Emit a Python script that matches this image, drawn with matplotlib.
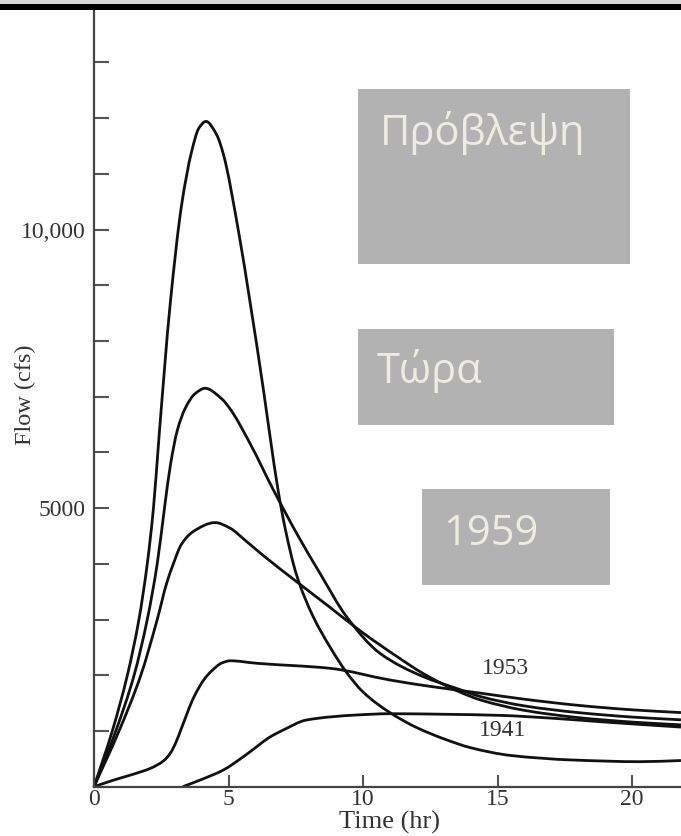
import matplotlib
matplotlib.use("Agg")
import matplotlib.pyplot as plt
from matplotlib.patches import Rectangle, PathPatch
from matplotlib.path import Path
import numpy as np

# hydrographs: time (hr), flow (cfs)
t_big = [0, 0.68, 1.24, 1.67, 1.98, 2.21, 2.42, 2.83, 3.26, 3.63, 3.9, 4.16, 4.56, 4.81,
         5.36, 5.8, 6.29, 6.54, 6.85, 7.1, 7.53, 8.15, 8.77, 9.39, 10.0, 11.0, 12.0, 13.0,
         14.0, 15.5, 17.8, 20.3, 21.82]
q_big = [0, 1000, 2000, 3000, 4000, 5000, 6300, 8650, 10450, 11400, 11820, 11940, 11700, 11350,
         10000, 8700, 7150, 6300, 5300, 4650, 3800, 3050, 2510, 2050, 1700, 1330, 1060, 860,
         700, 560, 479, 449, 470]

t_mid = [0, 0.81, 1.49, 1.98, 2.35, 2.62, 2.85, 3.1, 3.4, 3.75, 4.13, 4.75, 5.06, 5.8,
         6.67, 7.53, 8.4, 9.39, 10.63, 12.24, 13.5, 14.35, 16.0, 18.0, 20.0, 21.82]
q_mid = [0, 1000, 2000, 3000, 4000, 5000, 5800, 6400, 6800, 7050, 7150, 6960, 6780, 6160,
         5325, 4550, 3830, 3050, 2394, 1975, 1760, 1620, 1450, 1330, 1250, 1200]

t_low = [0, 0.93, 1.74, 2.35, 2.7, 2.95, 3.25, 3.69, 4.5, 5.06, 5.6, 6.29, 7.53, 8.77, 10.0,
         11.25, 12.24, 13.5, 14.35, 16.0, 18.0, 20.0, 21.82]
q_low = [0, 1000, 2000, 3000, 3650, 4000, 4350, 4580, 4740, 4640, 4430, 4150, 3680, 3220, 2760,
         2340, 2030, 1720, 1560, 1370, 1240, 1160, 1110]

t_1953 = [0, 0.74, 1.5, 2.1, 2.6, 2.85, 3.05, 3.22, 3.72, 4.1, 4.4, 4.75, 5.06, 6.05,
          8.77, 11.0, 12.5, 14.35, 16.0, 18.0, 20.0, 21.82]
q_1953 = [0, 120, 230, 330, 470, 610, 800, 1010, 1615, 1930, 2090, 2220, 2260, 2215,
          2125, 1915, 1800, 1680, 1570, 1460, 1380, 1330]

t_1941 = [3.3, 4.0, 4.81, 5.5, 6.05, 6.5, 7.04, 7.9, 9.77, 11.0, 13.0, 15.1, 17.0, 19.0, 21.82]
q_1941 = [0, 130, 300, 520, 718, 880, 1018, 1197, 1287, 1310, 1300, 1280, 1230, 1160, 1070]

x_ticks = [0, 5, 10, 15, 20]
y_ticks = list(range(0, 14000, 1000))
y_labels = {5000: "5000", 10000: "10,000"}

box_texts = ["Πρόβλεψη", "Τώρα", "1959"]


def smooth_path(t, q):
    # monotone cubic (Fritsch-Carlson) drawn as Bezier segments through the read points
    x = np.asarray(t, float)
    y = np.asarray(q, float)
    h = np.diff(x)
    d = np.diff(y) / h
    m = np.zeros_like(y)
    m[0], m[-1] = d[0], d[-1]
    for i in range(1, len(y) - 1):
        if d[i - 1] * d[i] <= 0:
            m[i] = 0.0
        else:
            w1, w2 = 2 * h[i] + h[i - 1], h[i] + 2 * h[i - 1]
            m[i] = (w1 + w2) / (w1 / d[i - 1] + w2 / d[i])
    verts, codes = [(x[0], y[0])], [Path.MOVETO]
    for i in range(len(x) - 1):
        verts += [(x[i] + h[i] / 3, y[i] + m[i] * h[i] / 3),
                  (x[i + 1] - h[i] / 3, y[i + 1] - m[i + 1] * h[i] / 3),
                  (x[i + 1], y[i + 1])]
        codes += [Path.CURVE4] * 3
    return Path(verts, codes)


W, H = 681, 836
fig = plt.figure(figsize=(W / 100, H / 100), dpi=100)
ax = fig.add_axes([94 / W, 1 - 786.7 / H, (W - 94) / W, (786.7 - 10) / H])

serif = "Liberation Serif"
for t, q in [(t_big, q_big), (t_mid, q_mid), (t_low, q_low), (t_1953, q_1953), (t_1941, q_1941)]:
    ax.add_patch(PathPatch(smooth_path(t, q), facecolor="none", edgecolor="#111111",
                           lw=2.0, joinstyle="round", clip_on=False))

ax.set_xlim(0, (W - 94) / 26.9)
ax.set_ylim(0, (786.7 - 10) / 0.05572)
for s in ("top", "right"):
    ax.spines[s].set_visible(False)
for s in ("left", "bottom"):
    ax.spines[s].set_color("#444444")
    ax.spines[s].set_linewidth(1.6)

ax.set_xticks(x_ticks)
ax.set_xticklabels([str(v) for v in x_ticks], fontfamily=serif, fontsize=17, color="#333333")
ax.set_yticks(y_ticks)
ax.set_yticklabels([y_labels.get(v, "") for v in y_ticks], fontfamily=serif, fontsize=17,
                   color="#333333")
ax.tick_params(axis="y", direction="in", length=11, width=1.5, color="#555555", pad=6)
ax.tick_params(axis="x", direction="in", length=8.5, width=1.5, color="#555555", pad=2)

ax.set_xlabel("Time (hr)", fontfamily=serif, fontsize=19, color="#333333")
ax.xaxis.set_label_coords(0.504, -0.031)
ax.set_ylabel("Flow (cfs)", fontfamily=serif, fontsize=17.5, color="#333333", va="center")
ax.yaxis.set_label_coords(-0.1175, 0.504)

ax.text(15.3, 2120, "1953", fontfamily=serif, fontsize=17, color="#333333", ha="center", va="center")
ax.text(15.2, 1000, "1941", fontfamily=serif, fontsize=17, color="#333333", ha="center", va="center")

# slide overlay: thick rule on top and grey boxes
fig.add_artist(Rectangle((0, 1 - 4 / H), 1, 4 / H, transform=fig.transFigure,
                         color="#d8d8d8", lw=0, zorder=5))
fig.add_artist(Rectangle((0, 1 - 10 / H), 1, 6 / H, transform=fig.transFigure,
                         color="black", lw=0, zorder=5))

boxes = [(358, 89, 630, 264), (358, 329, 614, 425), (422, 489, 610, 585)]
text_at = [(380, 145), (377, 383), (443, 545)]
for (x0, y0, x1, y1), (tx, ty), s in zip(boxes, text_at, box_texts):
    fig.add_artist(Rectangle((x0 / W, 1 - y1 / H), (x1 - x0) / W, (y1 - y0) / H,
                             transform=fig.transFigure, color="#b2b2b2", lw=0, zorder=6))
    fig.text(tx / W, 1 - ty / H, s, fontfamily="Open Sans", fontsize=30, color="#eeece1",
             ha="left", va="baseline", zorder=7)

fig.savefig("out.png", dpi=100)
